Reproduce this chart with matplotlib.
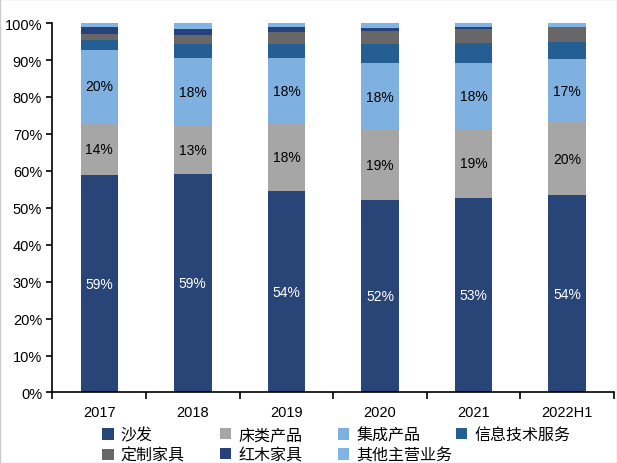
import matplotlib.pyplot as plt
import numpy as np
from matplotlib.ticker import PercentFormatter

plt.rcParams['font.family'] = ['Liberation Sans', 'Noto Sans CJK SC', 'DejaVu Sans']

# 年份与各业务收入占比（%）
years = ['2017', '2018', '2019', '2020', '2021', '2022H1']
sofa = [58.9, 59.2, 54.6, 52.2, 52.7, 53.4]
bed = [14.1, 13.0, 18.1, 18.9, 18.7, 19.8]
integrated = [19.8, 18.3, 17.8, 18.0, 17.9, 17.1]
it_service = [2.6, 3.8, 3.8, 5.2, 5.2, 4.7]
custom = [1.6, 2.4, 3.2, 3.6, 3.8, 4.0]
redwood = [1.9, 1.8, 1.4, 0.9, 0.7, 0.0]
other = [1.1, 1.4, 1.1, 1.1, 0.9, 0.9]

labels_sofa = ['59%', '59%', '54%', '52%', '53%', '54%']
labels_bed = ['14%', '13%', '18%', '19%', '19%', '20%']
labels_int = ['20%', '18%', '18%', '18%', '18%', '17%']

series = [
    ('沙发', sofa, '#294577'),
    ('床类产品', bed, '#a6a6a6'),
    ('集成产品', integrated, '#7fb1e0'),
    ('信息技术服务', it_service, '#245e92'),
    ('定制家具', custom, '#676767'),
    ('红木家具', redwood, '#26417c'),
    ('其他主营业务', other, '#80b4e4'),
]

fig = plt.figure(figsize=(6.17, 4.64), dpi=100)
ax = fig.add_axes([0.085, 0.152, 0.91, 0.796])

x = np.arange(len(years))
bottom = np.zeros(len(years))
bars = []
for name, vals, col in series:
    b = ax.bar(x, vals, 0.4, bottom=bottom, color=col, label=name)
    bars.append(b)
    bottom += np.array(vals)

# 数据标签
for rects, labs, tc in [(bars[0], labels_sofa, 'white'),
                        (bars[1], labels_bed, 'black'),
                        (bars[2], labels_int, 'black')]:
    for r, lab in zip(rects, labs):
        ax.text(r.get_x() + r.get_width() / 2, r.get_y() + r.get_height() / 2,
                lab, ha='center', va='center', fontsize=10, color=tc)

ax.set_xlim(-0.5, len(years) - 0.5)
ax.set_ylim(0, 100)
ax.set_yticks(np.arange(0, 101, 10))
ax.yaxis.set_major_formatter(PercentFormatter(decimals=0))
ax.set_xticks(x)
ax.set_xticklabels(years)
ax.set_xticks(np.arange(-0.5, len(years), 1), minor=True)
ax.tick_params(axis='x', which='major', length=0, labelsize=10.5, pad=9)
ax.tick_params(axis='x', which='minor', length=5, width=1.2, direction='out')
ax.tick_params(axis='y', length=4, width=1.2, labelsize=10.5)
for s in ['top', 'right']:
    ax.spines[s].set_visible(False)
for s in ['left', 'bottom']:
    ax.spines[s].set_linewidth(1.2)

# 图例：四列等宽，按行排列
columns = [[0, 4], [1, 5], [2, 6], [3]]
for k, idx in enumerate(columns):
    leg = fig.legend(handles=[bars[i] for i in idx], loc='upper left',
                     bbox_to_anchor=(0.166 + k * 0.191, 0.077), ncol=1,
                     frameon=False, fontsize=11.5, handlelength=0.7,
                     handleheight=0.7, handletextpad=0.45,
                     labelspacing=0.3, borderaxespad=0, borderpad=0)

fig.patches.append(plt.Rectangle((0, 0), 1, 1, transform=fig.transFigure,
                                 fill=False, edgecolor='#cccccc', lw=1))

fig.savefig('out.png', dpi=100)
